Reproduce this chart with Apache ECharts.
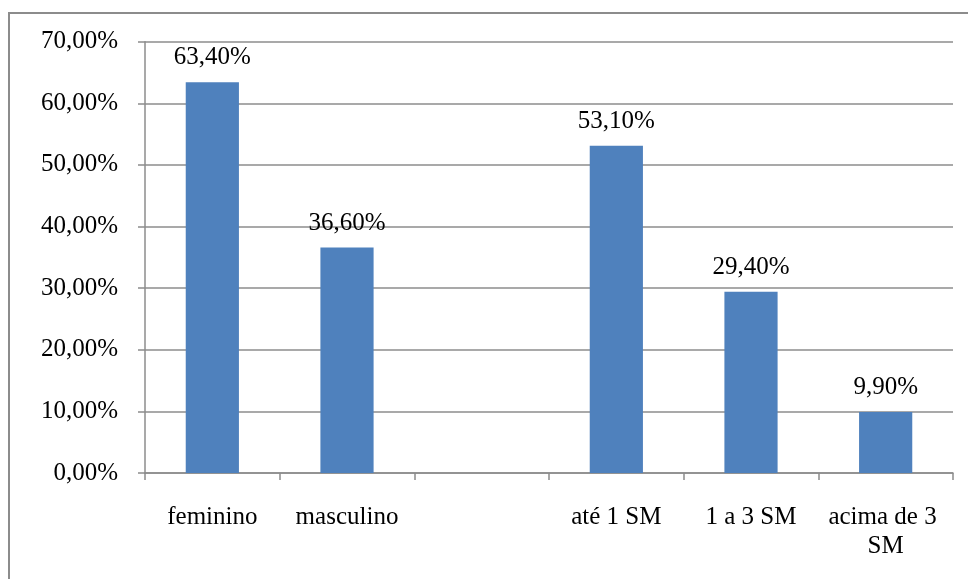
<!DOCTYPE html>
<html>
<head>
<meta charset="utf-8">
<script src="https://cdn.jsdelivr.net/npm/echarts@6/dist/echarts.min.js"></script>
<style>
  html, body { margin: 0; padding: 0; background: #fff; }
  #chart { width: 968px; height: 579px; }
</style>
</head>
<body>
<div id="chart"></div>
<script>
// Perfil: sexo e faixa de renda (salários mínimos)
const categories = ['feminino', 'masculino', '', 'até 1 SM', '1 a 3 SM', 'acima de 3 SM'];
const percentValues = [63.4, 36.6, null, 53.1, 29.4, 9.9];
const yTicks = { min: 0, max: 70, interval: 10 };

const fmt = v => v.toFixed(2).replace('.', ',') + '%';
const serif = '"Liberation Serif", "Times New Roman", serif';

const chart = echarts.init(document.getElementById('chart'));
chart.setOption({
  animation: false,
  graphic: [{
    type: 'rect',
    shape: { x: 9, y: 13, width: 980, height: 620 },
    style: { fill: 'none', stroke: '#8c8c8c', lineWidth: 2 },
    z: -1
  }],
  grid: { left: 145, right: 15, top: 41.7, bottom: 106, containLabel: false },
  xAxis: {
    type: 'category',
    data: categories,
    axisLine: { lineStyle: { color: '#8c8c8c', width: 1.5 } },
    axisTick: { show: true, length: 7, lineStyle: { color: '#8c8c8c', width: 1.5 } },
    axisLabel: {
      interval: 0,
      margin: 30,
      fontFamily: serif,
      fontSize: 25,
      color: '#000',
      lineHeight: 29,
      width: 132,
      overflow: 'break'
    }
  },
  yAxis: {
    type: 'value',
    min: yTicks.min,
    max: yTicks.max,
    interval: yTicks.interval,
    axisLine: { show: true, lineStyle: { color: '#8c8c8c', width: 1.5 } },
    axisTick: { show: true, length: 7, lineStyle: { color: '#8c8c8c', width: 1.5 } },
    splitLine: { lineStyle: { color: '#8c8c8c', width: 1.5 } },
    axisLabel: {
      margin: 27,
      fontFamily: serif,
      fontSize: 25,
      color: '#000',
      formatter: v => fmt(v)
    }
  },
  series: [{
    type: 'bar',
    data: percentValues,
    barWidth: '39.5%',
    itemStyle: { color: '#4f81bd' },
    label: {
      show: true,
      position: 'top',
      distance: 12,
      fontFamily: serif,
      fontSize: 25,
      color: '#000',
      formatter: p => fmt(p.value)
    },
    z: 3
  }]
});
</script>
</body>
</html>
